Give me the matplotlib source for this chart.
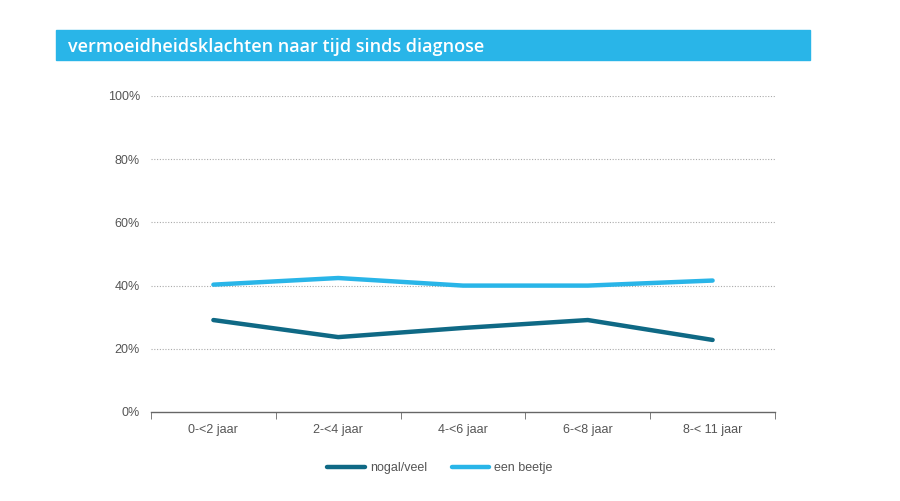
import numpy as np
import matplotlib.pyplot as plt
from matplotlib.patches import Rectangle

plt.rcParams['font.family'] = ['Liberation Sans', 'DejaVu Sans']

# data
categories = ['0-<2 jaar', '2-<4 jaar', '4-<6 jaar', '6-<8 jaar', '8-< 11 jaar']
nogal_veel = [29.1, 23.7, 26.6, 29.1, 22.8]
een_beetje = [40.3, 42.4, 40.0, 40.0, 41.6]
y_ticks = [0, 20, 40, 60, 80, 100]

dark = '#0f6985'
light = '#29b5e8'
grey = '#555555'

fig = plt.figure(figsize=(9, 5.01), dpi=100)

# title bar
fig.patches.append(Rectangle((56 / 900, 1 - 60 / 501), (810 - 56) / 900, 30 / 501,
                             transform=fig.transFigure, color=light, zorder=0))
fig.text(68 / 900, 1 - 46.5 / 501, 'vermoeidheidsklachten naar tijd sinds diagnose',
         color='white', fontsize=13, fontweight='semibold', va='center', family='Open Sans')

ax = fig.add_axes([151 / 900, 1 - 412 / 501, (775 - 151) / 900, (412 - 96) / 501])
x = np.arange(len(categories))
ax.plot(x, nogal_veel, color=dark, lw=3.2, solid_capstyle='round', label='nogal/veel', zorder=3)
ax.plot(x, een_beetje, color=light, lw=3.2, solid_capstyle='round', label='een beetje', zorder=3)

ax.set_xlim(-0.5, len(categories) - 0.5)
ax.set_ylim(0, 100)
ax.set_yticks(y_ticks)
ax.set_yticklabels([f'{v}%' for v in y_ticks])
for v in y_ticks[1:]:
    ax.axhline(v, color='#aaaaaa', lw=0.8, ls=(0, (1, 1.5)), zorder=1)

ax.set_xticks(x)
ax.set_xticklabels(categories)
ax.set_xticks(np.arange(len(categories) + 1) - 0.5, minor=True)
ax.tick_params(axis='x', which='major', length=0, pad=9, labelsize=9, labelcolor=grey)
ax.tick_params(axis='x', which='minor', length=5, color='#666666', direction='out')
ax.tick_params(axis='y', length=0, pad=8, labelsize=9, labelcolor=grey)
for s in ['top', 'right', 'left']:
    ax.spines[s].set_visible(False)
ax.spines['bottom'].set_color('#666666')
ax.spines['bottom'].set_linewidth(1)

leg = fig.legend(loc='center', bbox_to_anchor=(440 / 900, 1 - 468 / 501), ncol=2, frameon=False,
                 fontsize=9, handlelength=3, columnspacing=2, handletextpad=0.4)
for t in leg.get_texts():
    t.set_color(grey)

fig.savefig('out.png', dpi=100)
